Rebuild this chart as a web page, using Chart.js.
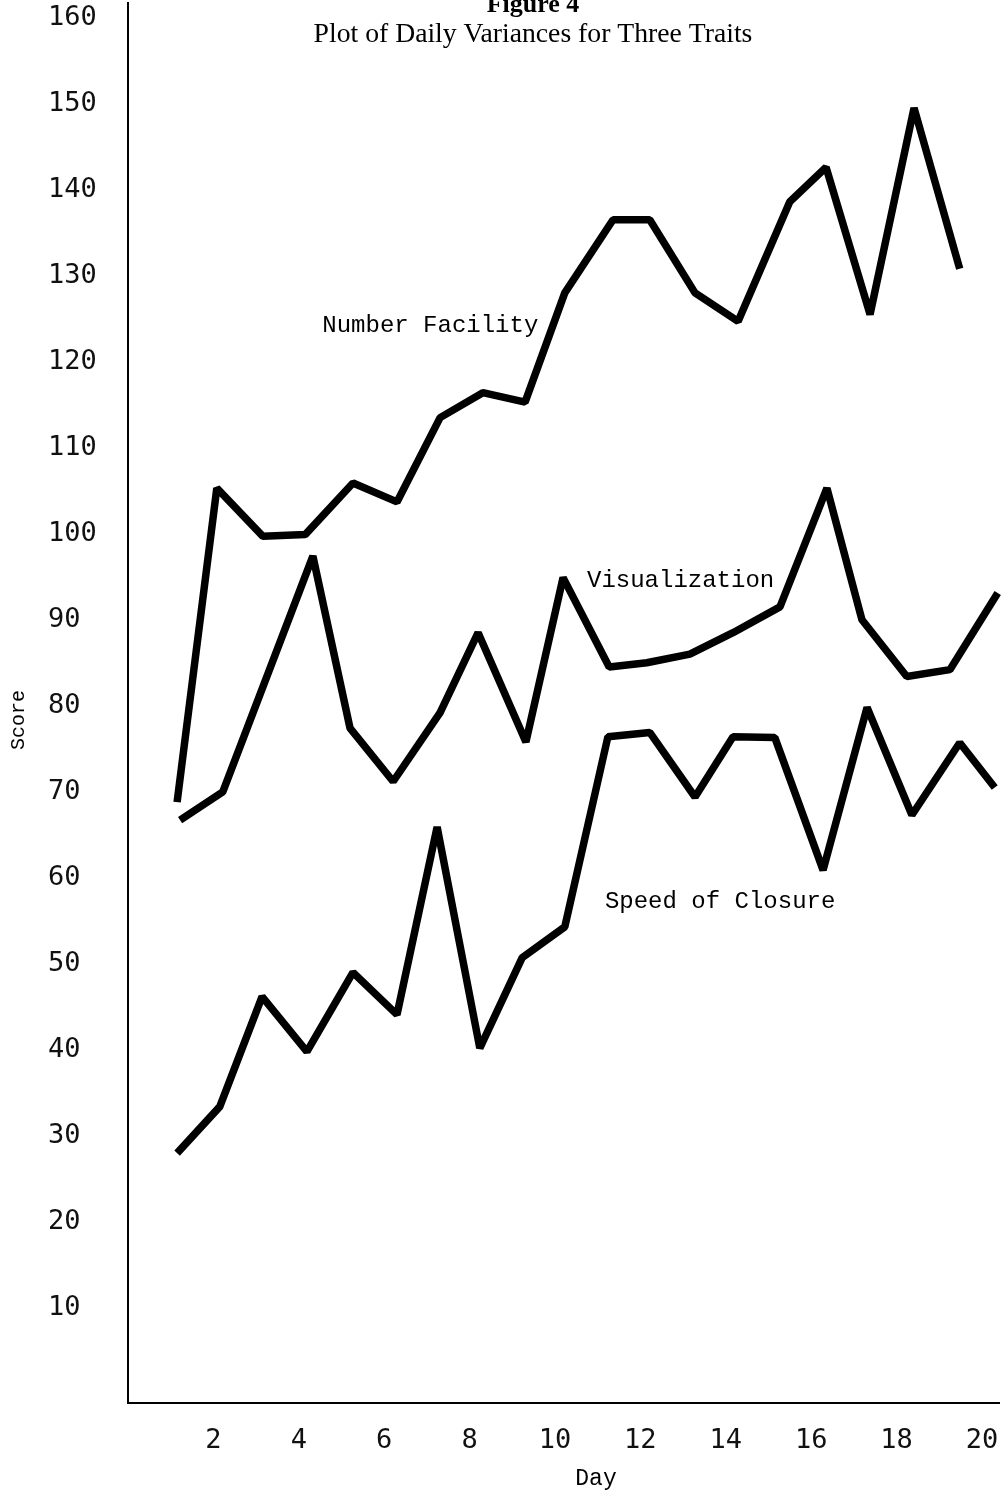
<!DOCTYPE html>
<html>
<head>
<meta charset="utf-8">
<script src="https://cdn.jsdelivr.net/npm/chart.js@4.4.1/dist/chart.umd.min.js"></script>
<style>
  html, body { margin: 0; padding: 0; background: #ffffff; }
  #wrap { width: 1004px; height: 1491px; position: relative; }
</style>
</head>
<body>
<div id="wrap"><canvas id="c" width="1004" height="1491"></canvas></div>
<script>
// ---- Data ----
const seriesNames = ['Number Facility', 'Visualization', 'Speed of Closure'];

const numberDays   = [1.15, 2.08, 3.16, 4.15, 5.27, 6.30, 7.31, 8.31, 9.30, 10.23, 11.36, 12.22, 13.28, 14.29, 15.50, 16.35, 17.38, 18.41, 19.48];
const numberScores = [68.8, 105.3, 99.7, 99.9, 105.9, 103.7, 113.5, 116.4, 115.3, 128.0, 136.5, 136.5, 128.0, 124.7, 138.6, 142.6, 125.5, 149.5, 130.8];

const visDays   = [1.22, 2.22, 4.33, 5.20, 6.21, 7.31, 8.20, 9.32, 10.19, 11.27, 12.15, 13.16, 14.17, 15.27, 16.37, 17.19, 18.24, 19.25, 20.37];
const visScores = [66.7, 70.0, 97.4, 77.4, 71.2, 79.2, 88.5, 75.8, 94.9, 84.5, 85.0, 86.0, 88.5, 91.5, 105.3, 90.0, 83.4, 84.2, 93.1];

const speedDays   = [1.15, 2.15, 3.14, 4.19, 5.27, 6.30, 7.24, 8.24, 9.23, 10.23, 11.24, 12.22, 13.28, 14.17, 15.15, 16.28, 17.31, 18.36, 19.48, 20.30];
const speedScores = [28.0, 33.4, 46.2, 39.8, 49.0, 44.1, 65.9, 40.2, 50.7, 54.3, 76.4, 76.9, 69.4, 76.4, 76.3, 60.9, 79.8, 67.3, 75.7, 70.5];

const yTickValues = [10, 20, 30, 40, 50, 60, 70, 80, 90, 100, 110, 120, 130, 140, 150, 160];
const xTickValues = [2, 4, 6, 8, 10, 12, 14, 16, 18, 20];

const titleText = 'Figure 4';
const subtitleText = 'Plot of Daily Variances for Three Traits';
const xAxisTitle = 'Day';
const yAxisTitle = 'Score';

// label anchor positions (data coordinates: day, score) — styling only
const seriesLabelAnchors = [
  { day: 4.55, score: 123.4 },
  { day: 10.75, score: 93.8 },
  { day: 11.17, score: 56.5 }
];

function toPoints(xs, ys) { return xs.map((x, i) => ({ x: x, y: ys[i] })); }

const lineStyle = {
  borderColor: '#000000',
  backgroundColor: '#000000',
  borderWidth: 7.5,
  pointRadius: 0,
  pointHoverRadius: 0,
  tension: 0,
  fill: false,
  borderJoinStyle: 'bevel',
  borderCapStyle: 'butt',
  clip: false
};

function noPad(s) { s.paddingTop = 0; s.paddingBottom = 0; s.paddingLeft = 0; s.paddingRight = 0; }

const textPlugin = {
  id: 'textOverlay',
  afterDraw(chart) {
    const ctx = chart.ctx;
    const xs = chart.scales.x, ys = chart.scales.y;
    ctx.save();
    ctx.fillStyle = '#000';
    ctx.textAlign = 'center';
    ctx.textBaseline = 'alphabetic';
    ctx.font = 'bold 26px "Liberation Serif", "Times New Roman", serif';
    ctx.fillText(titleText, 533, 12);
    ctx.font = '27.7px "Liberation Serif", "Times New Roman", serif';
    ctx.fillText(subtitleText, 533, 42);
    ctx.textAlign = 'left';
    ctx.font = '24px "Liberation Mono", "Courier New", monospace';
    seriesNames.forEach((name, i) => {
      const a = seriesLabelAnchors[i];
      ctx.fillText(name, xs.getPixelForValue(a.day), ys.getPixelForValue(a.score));
    });
    ctx.font = '23px "Liberation Mono", "Courier New", monospace';
    ctx.textAlign = 'center';
    ctx.fillText(xAxisTitle, 596, 1485);
    ctx.translate(19, 720);
    ctx.rotate(-Math.PI / 2);
    ctx.textBaseline = 'middle';
    ctx.font = '20px "Liberation Mono", "Courier New", monospace';
    ctx.fillText(yAxisTitle, 0, 0);
    ctx.restore();
  }
};

new Chart(document.getElementById('c'), {
  type: 'line',
  data: {
    datasets: [
      Object.assign({ label: seriesNames[0], data: toPoints(numberDays, numberScores) }, lineStyle),
      Object.assign({ label: seriesNames[1], data: toPoints(visDays, visScores) }, lineStyle),
      Object.assign({ label: seriesNames[2], data: toPoints(speedDays, speedScores) }, lineStyle)
    ]
  },
  options: {
    responsive: false,
    animation: false,
    events: [],
    layout: { padding: { left: 48, top: 3, right: 5, bottom: 0 } },
    plugins: { legend: { display: false }, title: { display: false }, tooltip: { enabled: false } },
    scales: {
      x: {
        type: 'linear',
        min: 0,
        max: 20.4,
        grid: { display: false, drawTicks: false },
        border: { display: true, color: '#000', width: 2 },
        afterBuildTicks: s => { s.ticks = xTickValues.map(v => ({ value: v })); },
        afterFit: s => { s.height = 88; noPad(s); },
        ticks: {
          padding: 22,
          color: '#111',
          maxRotation: 0,
          autoSkip: false,
          font: { family: '"DejaVu Sans Mono", monospace', size: 27 }
        }
      },
      y: {
        type: 'linear',
        min: -1.05,
        max: 161.7,
        grid: { display: false, drawTicks: false },
        border: { display: true, color: '#000', width: 2 },
        afterBuildTicks: s => { s.ticks = yTickValues.map(v => ({ value: v })); },
        afterFit: s => { s.width = 80; noPad(s); },
        ticks: {
          crossAlign: 'far',
          padding: 10,
          color: '#111',
          autoSkip: false,
          font: { family: '"DejaVu Sans Mono", monospace', size: 27 }
        }
      }
    }
  },
  plugins: [textPlugin]
});
</script>
</body>
</html>
